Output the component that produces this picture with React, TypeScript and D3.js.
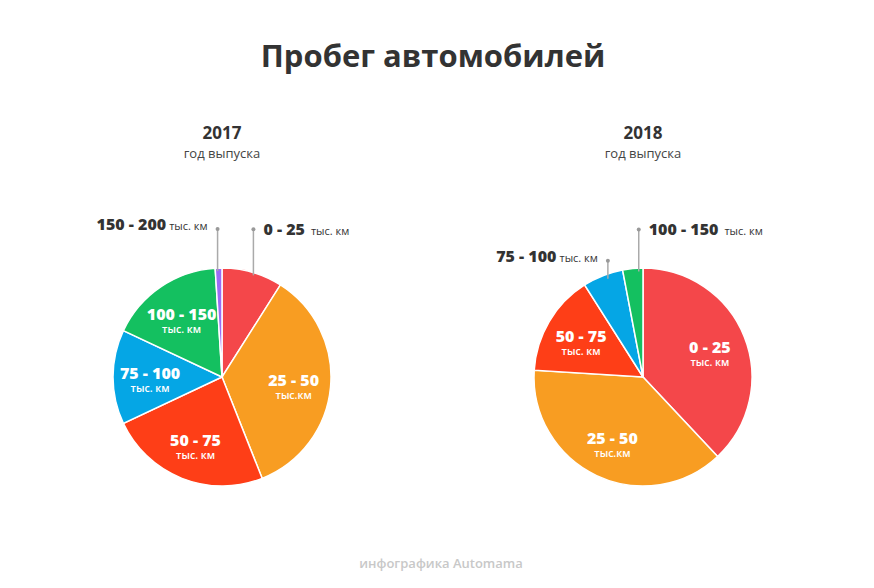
import React from 'react';
import * as d3 from 'd3';

// mileage ranges, thousand km
const categories = ['0 - 25', '25 - 50', '50 - 75', '75 - 100', '100 - 150', '150 - 200'];
const unitLabels = ['тыс. км', 'тыс.км', 'тыс. км', 'тыс. км', 'тыс. км', 'тыс. км'];
const sliceColors = ['#f4474a', '#f89d22', '#fe3e17', '#05a6e5', '#14c060', '#9b6cf4'];

// share of cars, %
const values2017 = [9, 35, 24, 14, 17, 1];
const values2018 = [38, 38, 15, 6, 3, 0];

const years = ['2017', '2018'];
const yearSubtitle = 'год выпуска';
const title = 'Пробег автомобилей';
const footer = 'инфографика Automama';

// callout placement for small slices (rise above the rim, horizontal nudge, text side)
const callouts: Record<string, { rise: number; shift: number; side: 'left' | 'right' }> = {
  '2017|0 - 25': { rise: 43, shift: 1, side: 'right' },
  '2017|150 - 200': { rise: 39, shift: -1, side: 'left' },
  '2018|75 - 100': { rise: 15, shift: 5, side: 'left' },
  '2018|100 - 150': { rise: 39, shift: 6, side: 'right' },
};

const W = 874;
const H = 588;
const FONT = '"Open Sans", sans-serif';
const R = 109;
const OUTSIDE_LIMIT = 10;

interface Slice {
  cat: string;
  unit: string;
  color: string;
  value: number;
}

function Pie({ year, values, cx, cy }: { year: string; values: number[]; cx: number; cy: number }) {
  const rows: Slice[] = categories
    .map((cat, i) => ({ cat, unit: unitLabels[i], color: sliceColors[i], value: values[i] }))
    .filter(d => d.value > 0);

  const pie = d3.pie<Slice>().value(d => d.value).sort(null).startAngle(0).endAngle(2 * Math.PI);
  const arcs = pie(rows);
  const arc = d3.arc<d3.PieArcDatum<Slice>>().innerRadius(0).outerRadius(R);
  const labelArc = d3.arc<d3.PieArcDatum<Slice>>().innerRadius(R * 0.66).outerRadius(R * 0.66);

  return (
    <g>
      <text x={cx} y={139} textAnchor="middle" fontFamily={FONT} fontWeight={700} fontSize={17} fill="#333">
        {year}
      </text>
      <text x={cx} y={158} textAnchor="middle" fontFamily={FONT} fontSize={13} fill="#444">
        {yearSubtitle}
      </text>
      <g transform={`translate(${cx},${cy})`}>
        {arcs.map(a => (
          <path key={a.data.cat} d={arc(a) || ''} fill={a.data.color} stroke="#fff" strokeWidth={1.5} />
        ))}
        {arcs
          .filter(a => a.data.value >= OUTSIDE_LIMIT)
          .map(a => {
            const [x, y] = labelArc.centroid(a);
            return (
              <g key={a.data.cat} fontFamily={FONT} fill="#fff" textAnchor="middle">
                <text x={x} y={y + 2} fontSize={16} fontWeight={800}>
                  {a.data.cat}
                </text>
                <text x={x} y={y + 15} fontSize={10.5} fontWeight={600}>
                  {a.data.unit}
                </text>
              </g>
            );
          })}
        {arcs
          .filter(a => a.data.value < OUTSIDE_LIMIT)
          .map(a => {
            const cfg = callouts[`${year}|${a.data.cat}`] || { rise: 39, shift: 0, side: 'right' };
            const mid = (a.startAngle + a.endAngle) / 2;
            const lx = Math.sin(mid) * R + cfg.shift;
            const ly = -Math.cos(mid) * R + 3;
            const topY = -Math.cos(mid) * R - cfg.rise;
            const right = cfg.side === 'right';
            return (
              <g key={a.data.cat}>
                <line x1={lx} x2={lx} y1={ly} y2={topY} stroke="#aaa" strokeWidth={1.5} />
                <circle cx={lx} cy={topY} r={2} fill="#999" />
                <text
                  x={right ? lx + 10 : lx - 10}
                  y={right ? topY + 6 : topY + 1}
                  textAnchor={right ? 'start' : 'end'}
                  fontFamily={FONT}
                  fill="#333"
                >
                  <tspan fontSize={16} fontWeight={800}>{a.data.cat}</tspan>
                  <tspan fontSize={11} fontWeight={500} dx={right ? 6 : 3}>{a.data.unit}</tspan>
                </text>
              </g>
            );
          })}
      </g>
    </g>
  );
}

export default function App() {
  const xPos = d3.scalePoint<string>().domain(years).range([222, 643]);
  const series = [values2017, values2018];
  return (
    <svg width={W} height={H} style={{ position: 'absolute', left: 0, top: 0, background: '#fff' }}>
      <text x={433} y={67} textAnchor="middle" fontFamily={FONT} fontWeight={700} fontSize={31} fill="#333">
        {title}
      </text>
      {years.map((y, i) => (
        <Pie key={y} year={y} values={series[i]} cx={xPos(y) || 0} cy={377} />
      ))}
      <text x={441} y={568} textAnchor="middle" fontFamily={FONT} fontWeight={600} fontSize={13} fill="#c8c8c8">
        {footer}
      </text>
    </svg>
  );
}
